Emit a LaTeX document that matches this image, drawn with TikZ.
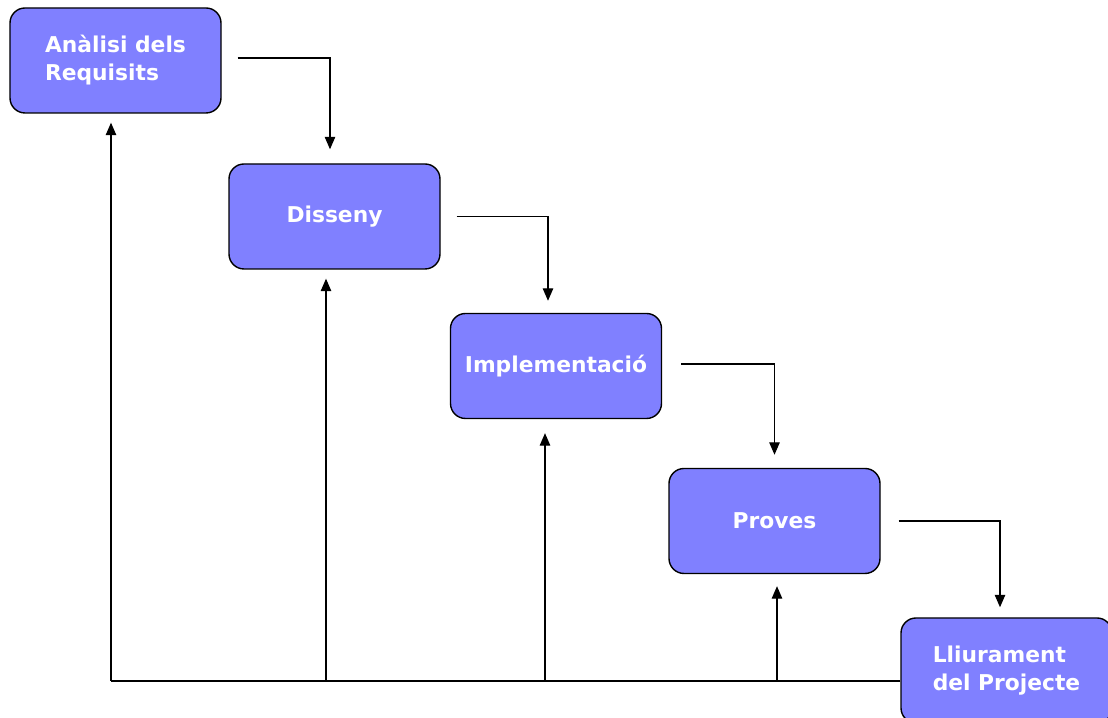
\documentclass[tikz,border=0pt]{standalone}
\usepackage{fontspec}
\newfontfamily\caixafont{DejaVu Sans}
\usetikzlibrary{arrows.meta}
\definecolor{caixa}{HTML}{8080FF}
\tikzset{
  fase/.style={draw=black, line width=0.8pt, fill=caixa, rounded corners=0.3cm,
    minimum width=4.22cm, minimum height=2.1cm, text=white, align=left,
    font=\caixafont\bfseries\fontsize{12.4}{16}\selectfont},
  fletxa/.style={line width=0.7pt, -{Triangle[length=2.5mm,width=2.1mm]}}
}
\begin{document}
\begin{tikzpicture}
    \useasboundingbox (0,0) rectangle (22.16,14.36);
    %caixes
    \node[fase] (analisi) at (2.31,13.15) {Anàlisi dels\\Requisits};
    \node[fase] (disseny) at (6.69,10.03) {Disseny};
    \node[fase] (implem) at (11.12,7.04) {Implementació};
    \node[fase] (proves) at (15.49,3.94) {Proves};
    \node[fase] (lliurament) at (20.13,0.95) {Lliurament\\del Projecte};

    %fletxes cap avall
    \draw[fletxa, shorten <=0.32cm, shorten >=0.28cm] ([yshift=0.05cm]analisi.east) -| ([xshift=-0.09cm]disseny.north);
    \draw[fletxa, shorten <=0.32cm, shorten >=0.24cm] (disseny.east) -| ([xshift=-0.16cm]implem.north);
    \draw[fletxa, shorten <=0.38cm, shorten >=0.26cm] ([yshift=0.04cm]implem.east) -| (proves.north);
    \draw[fletxa, shorten <=0.36cm, shorten >=0.2cm] (proves.east) -| ([xshift=-0.13cm]lliurament.north);

    %retorn
    \coordinate (retorn) at (2.22,0.74);
    \draw[line width=0.7pt] (lliurament.west |- retorn) -- (retorn);
    \draw[fletxa, shorten >=0.18cm] (retorn) -- (retorn |- analisi.south);
    \draw[fletxa, shorten >=0.18cm] (6.52,0.74) -- (6.52,0 |- disseny.south);
    \draw[fletxa, shorten >=0.28cm] (10.9,0.74) -- (10.9,0 |- implem.south);
    \draw[fletxa, shorten >=0.24cm] (15.54,0.74) -- (15.54,0 |- proves.south);
\end{tikzpicture}
\end{document}
